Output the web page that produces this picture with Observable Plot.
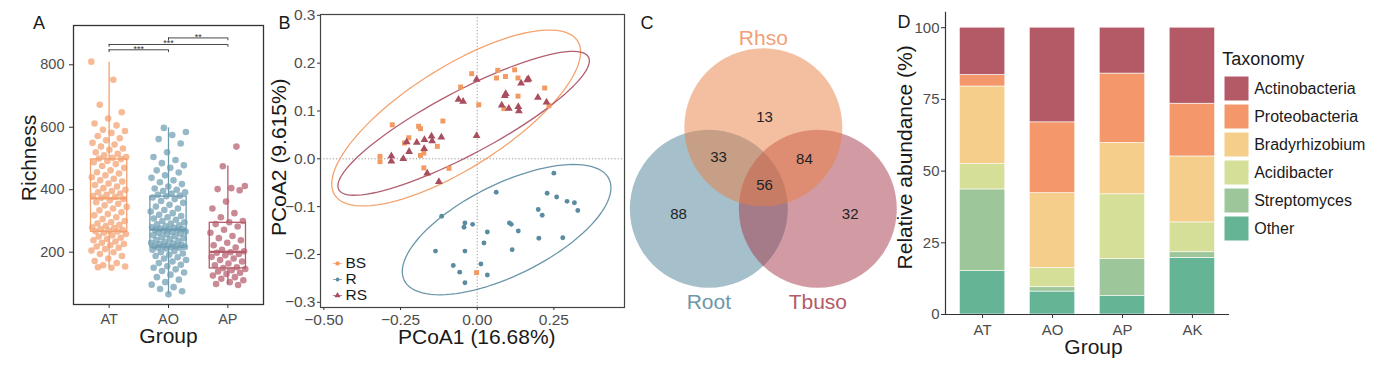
<!DOCTYPE html>
<html><head><meta charset="utf-8">
<script src="https://cdn.jsdelivr.net/npm/d3@7"></script>
<script src="https://cdn.jsdelivr.net/npm/@observablehq/plot@0.6"></script>
<style>
body{margin:0;background:#fff;}
#page{position:relative;width:1390px;height:367px;overflow:hidden;background:#fff;}
.panel{position:absolute;top:0;}
.panel svg{overflow:visible;}
</style></head><body><div id="page"></div>
<script>
const FONT = '"Liberation Sans", Arial, Helvetica, sans-serif';
const TICK = "#4D4D4D";
const INK = "#1A1A1A";

// ================= Panel A data =================
const groupsA = ["AT", "AO", "AP"];
const colorsA = ["#F3A06F", "#6D9CB1", "#B55D6C"];
const richAT = [810,752,672,648,628,612,606,592,588,582,572,565,558,550,545,538,532,528,520,515,510,505,502,500,498,
  492,488,482,476,470,462,456,452,446,440,435,430,426,420,415,410,405,400,396,392,388,384,380,377,374,
  370,366,360,355,350,345,340,334,328,322,318,312,306,300,296,292,288,284,280,277,274,271,269,267,266,
  262,258,254,250,246,242,238,234,230,226,222,218,214,210,205,200,194,188,180,172,165,158,154,150,152];
const richAO = [598,585,575,562,548,520,505,495,485,478,470,462,455,446,438,430,424,418,410,404,400,396,392,388,384,381,379,
  375,370,364,358,352,346,340,335,330,325,320,316,312,308,304,300,296,292,289,286,283,280,278,276,274,273,272,
  270,268,266,264,262,260,257,254,251,248,245,242,239,236,233,230,228,226,224,222,220,219,218,217,216,215,214,
  212,208,204,200,196,192,188,184,180,175,170,165,160,155,150,145,140,135,128,120,112,104,96,88,82,75,65];
const richAP = [538,475,412,405,402,398,362,340,325,312,300,296,
  290,282,272,262,252,245,238,230,222,215,208,203,
  200,198,194,190,185,180,175,170,164,158,152,149,
  146,142,138,134,130,125,120,115,110,104,98,95];
const boxQ1 = [265, 215, 148];
const boxMed = [372, 272, 201];
const boxQ3 = [497, 378, 294];
const whiskLo = [150, 65, 95];
const whiskHi = [808, 598, 476];
const sigFrom = ["AT", "AT", "AO"];
const sigTo = ["AO", "AP", "AP"];
const sigY = [848, 865, 886];
const sigLabel = ["***", "***", "**"];

// ================= Panel B data =================
const groupsB = ["BS", "R", "RS"];
const colorsB = ["#F29A62", "#5A8BA0", "#A84E5F"];
const bsX = [-0.277,-0.237,-0.223,-0.191,-0.185,-0.112,-0.054,-0.018,0.005,0.067,0.063,0.092,0.122,0.133,0.133,0.220,0.234,-0.317,-0.317,-0.185,-0.174,-0.174,-0.130,-0.092,-0.002,0.087];
const bsY = [0.071,0.033,0.044,0.068,0.063,0.079,0.150,0.178,0.113,0.185,0.169,0.172,0.186,0.169,0.131,0.148,0.111,0.005,-0.006,0.007,0.012,-0.019,0.026,-0.020,-0.238,0.105];
const rX = [0.250,0.062,0.228,0.259,0.293,0.317,0.328,0.199,0.212,-0.116,-0.040,-0.043,-0.015,0.105,0.111,0.134,0.033,0.022,0.201,0.279,0.114,-0.136,-0.040,-0.078,-0.057,0.012,0.033,-0.040];
const rY = [-0.030,-0.070,-0.072,-0.080,-0.089,-0.092,-0.108,-0.106,-0.118,-0.120,-0.134,-0.143,-0.137,-0.134,-0.137,-0.151,-0.153,-0.176,-0.166,-0.165,-0.190,-0.193,-0.193,-0.223,-0.237,-0.220,-0.243,-0.259];
const rsX = [-0.280,-0.280,-0.241,-0.222,-0.230,-0.197,-0.172,-0.173,-0.149,-0.147,-0.117,-0.163,-0.125,-0.061,-0.046,-0.002,-0.002,0.080,0.090,0.093,0.103,0.134,0.136,0.143,0.167,0.163,0.198,0.226];
const rsY = [0.006,-0.005,0.000,0.015,0.035,0.034,0.040,0.021,0.047,0.037,0.045,-0.030,-0.048,0.124,0.120,0.166,0.048,0.112,0.132,0.136,0.105,0.109,0.100,0.158,0.167,0.165,0.128,0.118];
const axisB1 = "PCoA1 (16.68%)";
const axisB2 = "PCoA2 (9.615%)";

// ================= Panel C data =================
const vennSets = ["Rhso", "Root", "Tbuso"];
const vennColors = ["#E97F41", "#4B7F97", "#A53747"];
const vennLabelColors = ["#F2A078", "#6E96AA", "#B45A69"];
const vennRegions = ["Rhso", "Rhso∩Root", "Rhso∩Tbuso", "Rhso∩Root∩Tbuso", "Root", "Tbuso"];
const vennCounts = [13, 33, 84, 56, 88, 32];

// ================= Panel D data =================
const groupsD = ["AT", "AO", "AP", "AK"];
const taxa = ["Actinobacteria", "Proteobacteria", "Bradyrhizobium", "Acidibacter", "Streptomyces", "Other"];
const taxaColors = ["#B35A66", "#F4976A", "#F4CE8A", "#D5DF97", "#9DC69B", "#65B496"];
const abundAT = [16.5, 4.0, 27.1, 8.8, 28.5, 15.1];
const abundAO = [33.0, 24.7, 26.1, 6.7, 1.5, 8.0];
const abundAP = [16.0, 24.2, 17.9, 22.6, 12.9, 6.4];
const abundAK = [26.5, 18.4, 23.0, 10.4, 2.0, 19.7];

// ---------------------------------------------------------------
const page = document.getElementById("page");
function place(svg, left, top = 0) {
  const d = document.createElement("div");
  d.className = "panel";
  d.style.left = left + "px";
  d.style.top = top + "px";
  d.appendChild(svg);
  page.appendChild(d);
}
const baseStyle = {background: "transparent", fontFamily: FONT, overflow: "visible"};
const mid = {textAnchor: "middle", lineAnchor: "middle"};

// ================= Panel A =================
{
  const pts = [];
  [richAT, richAO, richAP].forEach((arr, g) => arr.forEach((v, i) => {
    const j = ((i * 0.6180339887 + g * 0.37) % 1) - 0.5;
    pts.push({g: groupsA[g], x: g + 1 + j * 0.6, y: v});
  }));
  const box = groupsA.map((g, i) => ({g, gi: i + 1, q1: boxQ1[i], med: boxMed[i], q3: boxQ3[i], lo: whiskLo[i], hi: whiskHi[i]}));
  const sig = sigFrom.map((f, i) => ({x1: groupsA.indexOf(f) + 1, x2: groupsA.indexOf(sigTo[i]) + 1, y: sigY[i], label: sigLabel[i]}));
  const hw = 0.305;
  const p = Plot.plot({
    width: 270, height: 367, marginLeft: 73, marginRight: 7, marginTop: 25, marginBottom: 63,
    x: {domain: [0.4, 3.6]}, y: {domain: [32.5, 925.8]},
    color: {domain: groupsA, range: colorsA},
    style: baseStyle,
    marks: [
      Plot.ruleX(box, {x: "gi", y1: "q3", y2: "hi", stroke: "g", strokeWidth: 1.3}),
      Plot.ruleX(box, {x: "gi", y1: "lo", y2: "q1", stroke: "g", strokeWidth: 1.3}),
      Plot.rect(box, {x1: d => d.gi - hw, x2: d => d.gi + hw, y1: "q1", y2: "q3", stroke: "g", fill: "none", strokeWidth: 1.3}),
      Plot.ruleY(box, {x1: d => d.gi - hw, x2: d => d.gi + hw, y: "med", stroke: "g", strokeWidth: 2.2}),
      Plot.dot(pts, {x: "x", y: "y", fill: "g", r: 3.3, fillOpacity: 0.72}),
      Plot.ruleY(sig, {x1: "x1", x2: "x2", y: "y", stroke: "#333", strokeWidth: 0.9}),
      Plot.ruleX(sig, {x: "x1", y1: "y", y2: d => d.y - 9, stroke: "#333", strokeWidth: 0.9}),
      Plot.ruleX(sig, {x: "x2", y1: "y", y2: d => d.y - 9, stroke: "#333", strokeWidth: 0.9}),
      Plot.text(sig, {x: d => (d.x1 + d.x2) / 2, y: "y", text: "label", fontSize: 9, dy: -1, fill: "#333"}),
      Plot.frame({stroke: "#333", strokeWidth: 1.3}),
      Plot.axisX({ticks: [1, 2, 3], tickFormat: i => groupsA[i - 1], tickSize: 4, tickPadding: 5, fontSize: 14.5, label: null, stroke: "#333", fill: TICK}),
      Plot.axisY({ticks: [200, 400, 600, 800], tickSize: 4, tickPadding: 5, fontSize: 14.5, label: null, stroke: "#333", fill: TICK}),
      Plot.text(["Richness"], {text: d => d, frameAnchor: "left", ...mid, dx: -44.5, dy: -7, rotate: -90, fontSize: 21, fill: INK}),
      Plot.text(["Group"], {text: d => d, frameAnchor: "bottom", ...mid, dy: 31.5, fontSize: 21, fill: INK}),
      Plot.text(["A"], {text: d => d, frameAnchor: "top-left", ...mid, dx: -34.5, dy: -2, fontSize: 18, fill: INK})
    ]
  });
  place(p, 0);
}

// ================= Panel B =================
function trobEllipse(xs, ys, level = 0.95, seg = 101) {
  const n = xs.length, pdim = 2, nu = 5;
  let w = new Array(n).fill(1);
  let lx = d3.mean(xs), ly = d3.mean(ys);
  let X = [];
  for (let it = 0; it < 200; it++) {
    const w0 = w.slice();
    X = xs.map((x, i) => [x - lx, ys[i] - ly]);
    const sw = d3.sum(w);
    let sxx = 0, sxy = 0, syy = 0;
    X.forEach(([a, b], i) => { sxx += w[i] * a * a / sw; sxy += w[i] * a * b / sw; syy += w[i] * b * b / sw; });
    const det = sxx * syy - sxy * sxy;
    w = X.map(([a, b]) => (nu + pdim) / (nu + (syy * a * a - 2 * sxy * a * b + sxx * b * b) / det));
    const sw2 = d3.sum(w);
    lx = d3.sum(xs, (x, i) => w[i] * x) / sw2;
    ly = d3.sum(ys, (y, i) => w[i] * y) / sw2;
    if (w.every((v, i) => Math.abs(v - w0[i]) < 1e-4)) break;
  }
  let cxx = 0, cxy = 0, cyy = 0;
  X.forEach(([a, b], i) => { cxx += w[i] * a * a / n; cxy += w[i] * a * b / n; cyy += w[i] * b * b / n; });
  const m = n - 1;
  const q = (m / 2) * (Math.pow(1 - level, -2 / m) - 1);
  const rad = Math.sqrt(2 * q);
  const r11 = Math.sqrt(cxx), r12 = cxy / r11, r22 = Math.sqrt(cyy - r12 * r12);
  return d3.range(seg).map(k => {
    const t = 2 * Math.PI * k / (seg - 1);
    return {x: lx + rad * Math.cos(t) * r11, y: ly + rad * (Math.cos(t) * r12 + Math.sin(t) * r22)};
  });
}
{
  const sets = [[bsX, bsY], [rX, rY], [rsX, rsY]];
  const pts = [];
  const ell = [];
  sets.forEach(([xs, ys], g) => {
    xs.forEach((x, i) => pts.push({g: groupsB[g], x, y: ys[i]}));
    trobEllipse(xs, ys).forEach(d => ell.push({g: groupsB[g], ...d}));
  });
  const sizes = {BS: 2.8, R: 2.45, RS: 2.9};
  const keySizes = {BS: 2.1, R: 1.9, RS: 2.3};
  const hline = {draw(ctx, size) { const r = Math.sqrt(size / Math.PI); ctx.moveTo(-r, 0); ctx.lineTo(r, 0); }};
  const legendMarks = groupsB.flatMap((g, i) => [
    Plot.dot([g], {frameAnchor: "bottom-left", dx: 17, dy: -44 + 16 * i, symbol: hline, fill: "none", stroke: () => g, strokeWidth: 0.9, r: 4.6, strokeOpacity: 0.8}),
    Plot.dot([g], {frameAnchor: "bottom-left", dx: 17, dy: -44 + 16 * i, symbol: () => g, fill: () => g, r: keySizes[g]}),
    Plot.text([g], {text: d => d, frameAnchor: "bottom-left", textAnchor: "start", lineAnchor: "middle", dx: 25, dy: -44 + 16 * i, fontSize: 15.5, fill: INK})
  ]);
  const p = Plot.plot({
    width: 370, height: 367, marginLeft: 60, marginRight: 6, marginTop: 14, marginBottom: 60,
    x: {domain: [-0.511, 0.4803]}, y: {domain: [-0.3109, 0.3017]},
    color: {domain: groupsB, range: colorsB},
    symbol: {domain: groupsB, range: ["square", "circle", "triangle"]},
    style: baseStyle,
    marks: [
      Plot.ruleX([0], {stroke: "#8a8a8a", strokeDasharray: "1.2,2", strokeWidth: 0.9}),
      Plot.ruleY([0], {stroke: "#8a8a8a", strokeDasharray: "1.2,2", strokeWidth: 0.9}),
      Plot.line(ell, {x: "x", y: "y", z: "g", stroke: "g", strokeWidth: 1.3, strokeOpacity: 0.9}),
      ...groupsB.map(g => Plot.dot(pts.filter(d => d.g === g), {x: "x", y: "y", symbol: "g", fill: "g", r: sizes[g]})),
      Plot.frame({stroke: "#444", strokeWidth: 1.2}),
      Plot.axisX({ticks: [-0.5, -0.25, 0, 0.25], tickFormat: d3.format(".2f"), tickSize: 3, tickPadding: 3, fontSize: 15.5, label: null, stroke: "#333", fill: TICK}),
      Plot.axisY({ticks: [-0.3, -0.2, -0.1, 0, 0.1, 0.2, 0.3], tickFormat: d3.format(".1f"), tickSize: 3, tickPadding: 2, fontSize: 15.5, label: null, stroke: "#333", fill: TICK}),
      ...legendMarks,
      Plot.text([axisB1], {text: d => d, frameAnchor: "bottom", ...mid, dx: 4.3, dy: 30, fontSize: 21, fill: INK}),
      Plot.text([axisB2], {text: d => d, frameAnchor: "left", ...mid, dx: -41.7, dy: -3.8, rotate: -90, fontSize: 21, fill: INK}),
      Plot.text(["B"], {text: d => d, frameAnchor: "top-left", ...mid, dx: -36, dy: 8.5, fontSize: 18, fill: INK})
    ]
  });
  place(p, 260);
}

// ================= Panel C =================
{
  // symmetric three-set layout, in units of the circle radius
  const centers = {Rhso: [0, -1.033], Root: [-0.69, 0], Tbuso: [0.69, 0]};
  const regionPos = {
    "Rhso": [0.015, -1.157], "Rhso∩Root": [-0.567, -0.653], "Rhso∩Tbuso": [0.52, -0.624],
    "Rhso∩Root∩Tbuso": [0.015, -0.296], "Root": [-1.073, 0.07], "Tbuso": [1.1, 0.07]
  };
  const drawOrder = ["Root", "Tbuso", "Rhso"];
  const circles = drawOrder.map(s => ({set: s, x: centers[s][0], y: centers[s][1]}));
  const regions = vennRegions.map((r, i) => ({r, n: vennCounts[i], x: regionPos[r][0], y: regionPos[r][1]}));
  const labels = vennSets.map((s, i) => ({set: s, col: vennLabelColors[i], x: centers[s][0], y: centers[s][1] + (centers[s][1] < 0 ? -1.125 : 1.18)}));
  const p = Plot.plot({
    width: 270, height: 367, margin: 0,
    x: {domain: [-1.808, 1.610], axis: null}, y: {domain: [2.009, -2.637], axis: null},
    color: {domain: vennSets, range: vennColors},
    style: baseStyle,
    marks: [
      Plot.dot(circles, {x: "x", y: "y", r: 79, fill: "set", fillOpacity: 0.5}),
      Plot.text(regions, {x: "x", y: "y", text: d => String(d.n), fontSize: 15, fill: "#222"}),
      Plot.text(labels, {x: "x", y: "y", text: "set", fontSize: 21, fill: d => d.col}),
      Plot.text(["C"], {text: d => d, frameAnchor: "top-left", ...mid, dx: 26.5, dy: 23, fontSize: 18, fill: INK})
    ]
  });
  place(p, 620);
}

// ================= Panel D =================
{
  const rows = [];
  [abundAT, abundAO, abundAP, abundAK].forEach((vals, gi) => {
    let acc = 0;
    for (let k = taxa.length - 1; k >= 0; k--) {
      rows.push({g: groupsD[gi], gi: gi + 1, taxon: taxa[k], y1: acc, y2: acc + vals[k]});
      acc += vals[k];
    }
  });
  const xDom = [0.47, 4.53];
  const hw = 0.325;
  const p = Plot.plot({
    width: 500, height: 367, marginLeft: 55, marginRight: 161, marginTop: 11.7, marginBottom: 53,
    x: {domain: xDom}, y: {domain: [0, 105.4]},
    color: {domain: taxa, range: taxaColors},
    style: baseStyle,
    marks: [
      Plot.rect(rows, {x1: d => d.gi - hw, x2: d => d.gi + hw, y1: "y1", y2: "y2", fill: "taxon", stroke: "white", strokeWidth: 0.6}),
      Plot.ruleY([0], {stroke: "#333", strokeWidth: 1.2}),
      Plot.ruleX([xDom[0]], {stroke: "#333", strokeWidth: 1.2}),
      Plot.axisX({ticks: [1, 2, 3, 4], tickFormat: i => groupsD[i - 1], tickSize: 4, tickPadding: 6, fontSize: 15, label: null, stroke: "#333", fill: TICK}),
      Plot.axisY({ticks: [0, 25, 50, 75, 100], tickSize: 4, tickPadding: 2, fontSize: 15, label: null, stroke: "#333", fill: TICK}),
      Plot.text(["Group"], {text: d => d, frameAnchor: "bottom", ...mid, dx: 6, dy: 32.3, fontSize: 21, fill: INK}),
      Plot.text(["Relative abundance (%)"], {text: d => d, frameAnchor: "left", ...mid, dx: -40, dy: -6, rotate: -90, fontSize: 21, fill: INK}),
      Plot.text(["D"], {text: d => d, frameAnchor: "top-left", ...mid, dx: -41.5, dy: 10.3, fontSize: 18, fill: INK})
    ]
  });
  place(p, 890);

  const lg = Plot.plot({
    width: 169, height: 260, margin: 0,
    x: {type: "band", domain: ["k"], range: [2.3, 28], padding: 0, axis: null},
    y: {type: "band", domain: taxa, range: [75, 243], paddingInner: 0.1, paddingOuter: 0, axis: null},
    color: {domain: taxa, range: taxaColors},
    style: baseStyle,
    marks: [
      Plot.cell(taxa, {x: () => "k", y: d => d, fill: d => d, stroke: "white", strokeWidth: 1, inset: 0}),
      Plot.text(taxa, {x: () => "k", y: d => d, text: d => d, dx: 17.2, textAnchor: "start", fontSize: 16, fill: INK}),
      Plot.text(["Taxonomy"], {text: d => d, frameAnchor: "top-left", textAnchor: "start", lineAnchor: "middle", dx: 0.7, dy: 59, fontSize: 18, fill: INK})
    ]
  });
  place(lg, 1221);
}
</script>
</body></html>
